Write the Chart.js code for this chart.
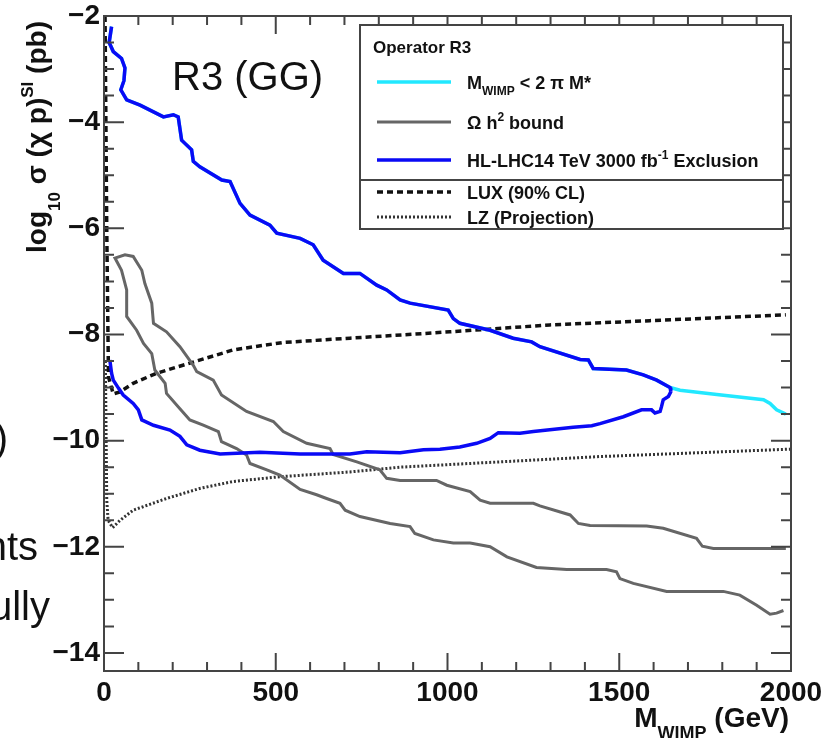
<!DOCTYPE html>
<html lang="en">
<head>
  <meta charset="UTF-8">
  <title>Operator R3 - HL-LHC exclusion</title>
  <script src="https://cdn.jsdelivr.net/npm/chart.js"></script>
  <style>
    body { margin: 0; background: #fff; }
  </style>
</head>
<body>
  <canvas id="chart" width="836" height="738"></canvas>

  <script>
    const FONT = '"Liberation Sans", Arial, sans-serif';

    const xTicks = [0, 500, 1000, 1500, 2000];
    const yTicks = [-14, -12, -10, -8, -6, -4, -2];

    // HL-LHC exclusion contour, upper edge (low mass -> tip)
    const exclUpperX = [22, 15, 27, 51, 61, 58, 49, 66, 105, 173, 202, 216, 226, 255, 260, 279, 343, 367, 396, 425, 483, 503, 571, 609, 638, 697, 745, 794, 823, 862, 891, 1002, 1017, 1036, 1124, 1191, 1245, 1269, 1386, 1410, 1424, 1521, 1570, 1609, 1648];
    const exclUpperY = [-2.2, -2.5, -2.67, -2.8, -2.98, -3.22, -3.39, -3.58, -3.68, -3.9, -3.86, -3.9, -4.34, -4.52, -4.74, -4.84, -5.09, -5.12, -5.53, -5.75, -5.94, -6.09, -6.19, -6.31, -6.6, -6.85, -6.85, -7.07, -7.16, -7.35, -7.41, -7.54, -7.7, -7.79, -7.92, -8.07, -8.14, -8.23, -8.47, -8.48, -8.64, -8.67, -8.76, -8.86, -9.0];
    // lower edge (tip -> low mass)
    const exclLowerX = [1650, 1643, 1628, 1623, 1619, 1604, 1594, 1565, 1512, 1444, 1420, 1366, 1250, 1211, 1148, 1124, 1085, 1036, 978, 930, 862, 765, 716, 571, 454, 338, 279, 241, 221, 192, 144, 110, 100, 85, 56, 42, 27, 22, 17];
    const exclLowerY = [-9.08, -9.17, -9.23, -9.36, -9.45, -9.48, -9.42, -9.42, -9.55, -9.68, -9.72, -9.75, -9.83, -9.86, -9.85, -9.96, -10.05, -10.12, -10.16, -10.17, -10.23, -10.21, -10.25, -10.25, -10.22, -10.25, -10.18, -10.08, -9.92, -9.8, -9.71, -9.61, -9.42, -9.3, -9.14, -9.01, -8.86, -8.73, -8.48];
    // part where M_WIMP > 2 pi M* (only the cyan line)
    const extX = [1648, 1677, 1784, 1920, 1939, 1958, 1985];
    const extY = [-9.0, -9.05, -9.13, -9.23, -9.3, -9.42, -9.5];

    // Omega h^2 bound, two branches starting at the apex
    const relicLowX = [61, 32, 51, 66, 66, 95, 115, 139, 148, 178, 182, 221, 250, 289, 333, 342, 386, 415, 425, 474, 512, 571, 619, 648, 687, 702, 745, 833, 891, 905, 959, 1017, 1066, 1124, 1173, 1259, 1347, 1463, 1492, 1502, 1541, 1638, 1803, 1851, 1900, 1939, 1958, 1978];
    const relicLowY = [-6.5, -6.56, -6.79, -7.16, -7.66, -7.92, -8.17, -8.36, -8.67, -8.92, -9.11, -9.4, -9.61, -9.71, -9.83, -10.02, -10.15, -10.27, -10.43, -10.55, -10.65, -10.92, -11.02, -11.09, -11.18, -11.31, -11.43, -11.56, -11.62, -11.75, -11.87, -11.93, -11.93, -12.0, -12.19, -12.39, -12.43, -12.43, -12.47, -12.6, -12.69, -12.84, -12.84, -12.91, -13.1, -13.27, -13.25, -13.2];
    const relicHighX = [61, 85, 110, 119, 139, 144, 182, 221, 260, 270, 318, 342, 415, 493, 522, 590, 658, 667, 736, 803, 823, 862, 968, 998, 1066, 1095, 1124, 1250, 1269, 1357, 1381, 1415, 1580, 1628, 1725, 1742, 1774, 1985];
    const relicHighY = [-6.5, -6.53, -6.79, -7.04, -7.41, -7.79, -7.95, -8.23, -8.58, -8.7, -8.86, -9.14, -9.45, -9.64, -9.83, -10.05, -10.15, -10.26, -10.4, -10.55, -10.71, -10.75, -10.75, -10.84, -10.96, -11.12, -11.18, -11.18, -11.23, -11.4, -11.56, -11.6, -11.61, -11.65, -11.84, -11.99, -12.03, -12.03];

    const luxX = [3, 8, 13, 27, 47, 85, 153, 250, 376, 522, 716, 1007, 1298, 1589, 1985];
    const luxY = [-2.0, -6.0, -8.8, -9.12, -9.08, -8.92, -8.73, -8.54, -8.29, -8.15, -8.07, -7.95, -7.82, -7.74, -7.63];

    const lzX = [4, 8, 12, 25, 47, 85, 182, 279, 376, 512, 716, 862, 1153, 1444, 2000];
    const lzY = [-8.5, -11.12, -11.5, -11.64, -11.5, -11.31, -11.09, -10.9, -10.77, -10.68, -10.59, -10.5, -10.4, -10.3, -10.16];

    const legendTitle = 'Operator R3';
    const legendOrder = [1, 2, 0, 3, 4]; // dataset index per legend row

    function pts(xs, ys) {
      return xs.map((x, i) => ({ x: x, y: ys[i] }));
    }

    // tiny rich text: _{sub} and ^{sup}
    function parseRich(str) {
      const out = [];
      const re = /([_^])\{([^}]*)\}/g;
      let last = 0, m;
      while ((m = re.exec(str))) {
        if (m.index > last) out.push({ t: str.slice(last, m.index), k: '' });
        out.push({ t: m[2], k: m[1] });
        last = re.lastIndex;
      }
      if (last < str.length) out.push({ t: str.slice(last), k: '' });
      return out;
    }

    function drawRich(c, str, x, y, size, o) {
      o = Object.assign({ scale: 0.65, sub: 0.35, sup: 0.4, align: 'left' }, o || {});
      const segs = parseRich(str);
      const fontFor = s => `bold ${s.k ? Math.round(size * o.scale) : size}px ${FONT}`;
      let w = 0;
      segs.forEach(s => { c.font = fontFor(s); s.w = c.measureText(s.t).width; w += s.w; });
      let cx = o.align === 'right' ? x - w : x;
      c.textAlign = 'left';
      c.textBaseline = 'alphabetic';
      segs.forEach(s => {
        c.font = fontFor(s);
        const dy = s.k === '_' ? size * o.sub : s.k === '^' ? -size * o.sup : 0;
        c.fillText(s.t, cx, y + dy);
        cx += s.w;
      });
    }

    const decor = {
      id: 'decor',
      afterDraw(chart) {
        const c = chart.ctx, a = chart.chartArea;
        const xs = chart.scales.x, ys = chart.scales.y;
        c.save();

        // ticks pointing inwards on all four sides
        c.strokeStyle = '#444';
        c.lineWidth = 2;
        c.beginPath();
        const xStep = xTicks[1] - xTicks[0];
        for (let v = xs.min; v <= xs.max + 1e-6; v += xStep / 5) {
          const major = Math.abs(v / xStep - Math.round(v / xStep)) < 1e-6;
          const len = major ? 18 : 9;
          const px = xs.getPixelForValue(v);
          c.moveTo(px, a.bottom); c.lineTo(px, a.bottom - len);
          c.moveTo(px, a.top); c.lineTo(px, a.top + len);
        }
        const yStep = yTicks[1] - yTicks[0];
        const yMinor = yStep / 4;
        for (let v = Math.ceil(ys.min / yMinor) * yMinor; v <= ys.max + 1e-6; v += yMinor) {
          const major = Math.abs(v / yStep - Math.round(v / yStep)) < 1e-6;
          const len = major ? 20 : 10;
          const py = ys.getPixelForValue(v);
          c.moveTo(a.left, py); c.lineTo(a.left + len, py);
          c.moveTo(a.right, py); c.lineTo(a.right - len, py);
        }
        c.stroke();
        c.strokeRect(a.left, a.top, a.right - a.left, a.bottom - a.top);

        // axis titles
        c.fillStyle = '#111';
        drawRich(c, 'M_{WIMP} (GeV)', 789, 727, 28, { align: 'right', scale: 0.66, sub: 0.42 });
        c.save();
        c.translate(46, 253);
        c.rotate(-Math.PI / 2);
        drawRich(c, 'log_{10} σ (χ p)^{SI} (pb)', 0, 0, 28, { scale: 0.6, sub: 0.5, sup: 0.45 });
        c.restore();

        // legend
        const L = { x: 360, y: 25, w: 423, split: 180, bottom: 229 };
        c.fillStyle = '#fff';
        c.fillRect(L.x, L.y, L.w, L.bottom - L.y);
        c.strokeStyle = '#444';
        c.lineWidth = 2;
        c.strokeRect(L.x, L.y, L.w, L.split - L.y);
        c.strokeRect(L.x, L.split, L.w, L.bottom - L.split);
        c.fillStyle = '#111';
        c.font = `bold 17px ${FONT}`;
        c.textAlign = 'left';
        c.fillText(legendTitle, 373, 53);
        const rowY = [82, 122, 160, 192, 217];
        legendOrder.forEach((di, i) => {
          const ds = chart.data.datasets[di];
          c.strokeStyle = ds.borderColor;
          c.lineWidth = ds.borderWidth;
          c.setLineDash(ds.borderDash || []);
          c.beginPath();
          c.moveTo(377, rowY[i]);
          c.lineTo(451, rowY[i]);
          c.stroke();
          c.setLineDash([]);
          c.fillStyle = '#111';
          drawRich(c, ds.label, 467, rowY[i] + 6.5, 18);
        });

        // slide text around the plot
        c.fillStyle = '#111';
        c.font = `40px ${FONT}`;
        c.textAlign = 'left';
        c.fillText('R3 (GG)', 172, 90);
        c.textAlign = 'right';
        c.fillText(')', 8, 452);
        c.fillText('nts', 38, 560);
        c.fillText('ully', 50, 620);
        c.restore();
      }
    };

    const ctx = document.getElementById('chart').getContext('2d');
    const chart = new Chart(ctx, {
      type: 'scatter',
      data: {
        datasets: [
          {
            label: 'HL-LHC14 TeV 3000 fb^{-1} Exclusion',
            data: pts(exclUpperX.concat(exclLowerX), exclUpperY.concat(exclLowerY)),
            borderColor: '#0a0af5',
            borderWidth: 3.5
          },
          {
            label: 'M_{WIMP} < 2 π M*',
            data: pts(exclUpperX.concat(extX), exclUpperY.concat(extY)),
            borderColor: '#22e8ff',
            borderWidth: 3.5
          },
          {
            label: 'Ω h^{2} bound',
            data: pts(relicLowX.slice().reverse().concat(relicHighX), relicLowY.slice().reverse().concat(relicHighY)),
            borderColor: '#666666',
            borderWidth: 3
          },
          {
            label: 'LUX (90% CL)',
            data: pts(luxX, luxY),
            borderColor: '#111111',
            borderWidth: 3.5,
            borderDash: [6, 4]
          },
          {
            label: 'LZ (Projection)',
            data: pts(lzX, lzY),
            borderColor: '#333333',
            borderWidth: 3,
            borderDash: [2, 2]
          }
        ]
      },
      options: {
        responsive: false,
        animation: false,
        showLine: true,
        layout: { padding: { left: 0, top: 16, right: 45, bottom: 0 } },
        elements: {
          point: { radius: 0, hoverRadius: 0 },
          line: { tension: 0, fill: false }
        },
        plugins: {
          legend: { display: false },
          tooltip: { enabled: false }
        },
        scales: {
          x: {
            type: 'linear',
            min: 0,
            max: 2000,
            grid: { display: false, drawTicks: false },
            border: { display: false },
            ticks: {
              color: '#111',
              font: { family: FONT, size: 28, weight: 'bold' },
              padding: 5,
              maxRotation: 0,
              autoSkip: false,
              callback: v => String(v)
            },
            afterBuildTicks: s => { s.ticks = xTicks.map(v => ({ value: v })); },
            afterFit: s => { s.height = 67; s.paddingLeft = 0; s.paddingRight = 0; }
          },
          y: {
            type: 'linear',
            min: -14.34,
            max: -2,
            grid: { display: false, drawTicks: false },
            border: { display: false },
            ticks: {
              color: '#111',
              font: { family: FONT, size: 28, weight: 'bold' },
              padding: 4,
              autoSkip: false,
              callback: v => (v < 0 ? '\u2212' + Math.abs(v) : String(v))
            },
            afterBuildTicks: s => { s.ticks = yTicks.map(v => ({ value: v })); },
            afterFit: s => { s.width = 104; s.paddingTop = 0; s.paddingBottom = 0; }
          }
        }
      },
      plugins: [decor]
    });
  </script>
</body>
</html>
